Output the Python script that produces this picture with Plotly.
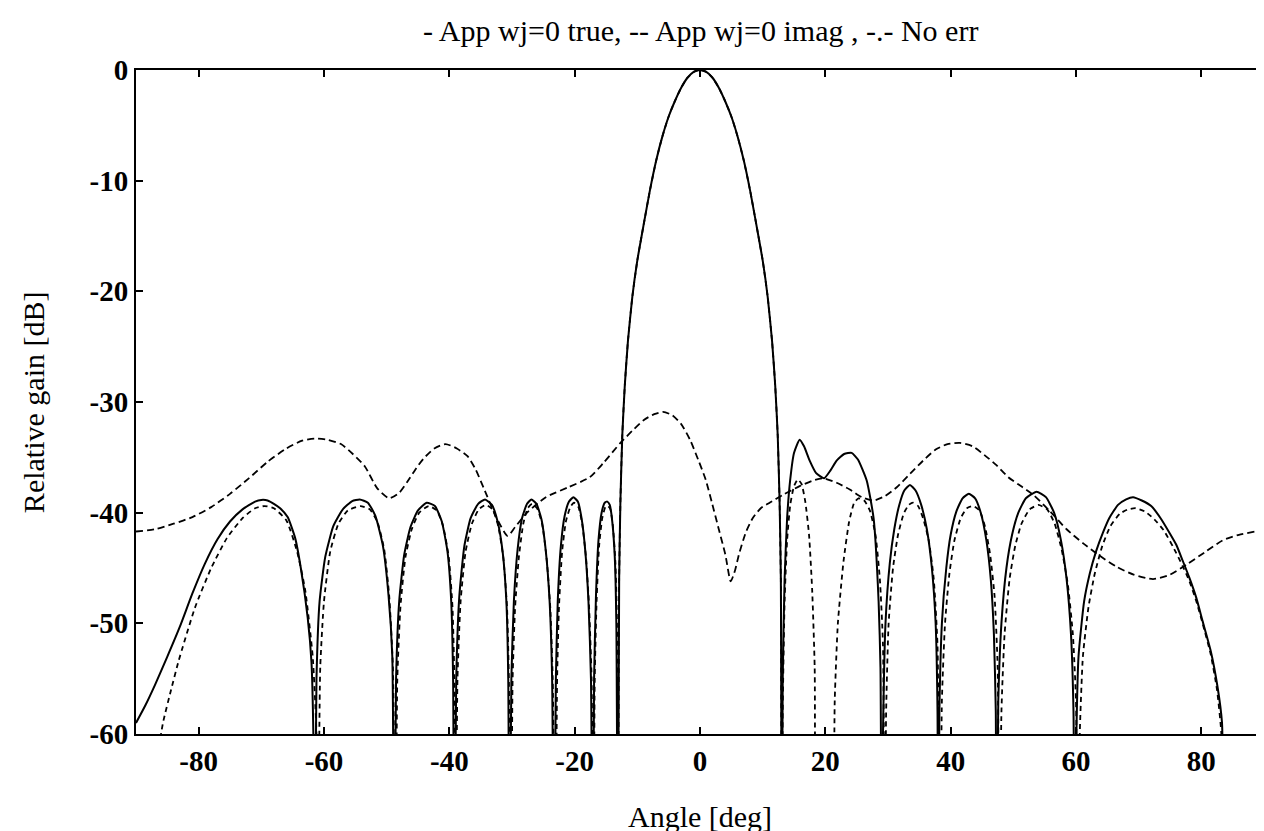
import plotly.graph_objects as go

# ---- data ----
main_x = [-12.9, -12.7, -12.4, -12.0, -11.5, -10.8, -10, -9, -8, -7, -6, -5, -4, -3, -2, -1, 0,
          1, 2, 3, 4, 5, 6, 7, 8, 9, 10, 10.8, 11.5, 12.0, 12.4, 12.7, 12.9, 13.05]
main_y = [-46, -39, -33, -28.5, -24.5, -20.5, -17.2, -14.0, -10.9, -8.2, -6.0, -4.2, -2.8, -1.6, -0.7, -0.17, 0,
          -0.17, -0.7, -1.6, -2.8, -4.2, -6.0, -8.2, -10.9, -14.0, -17.2, -20.5, -24.5, -28.5, -33, -39, -46, -75]

true_left_x = [-90, -88.5, -87, -85, -83, -81, -79, -77, -75, -73, -71, -70, -69, -68, -67, -65.8, -64.6, -63.7, -62.6, -62, -61.7, -61.5,
               -61.2, -60.7, -59.8, -58.5, -57, -55.5, -54.3, -53, -51.8, -50.6, -49.7, -49.1, -48.8,
               -48.5, -48.0, -47.2, -46.2, -45.0, -43.6, -42.3, -41.2, -40.3, -39.7, -39.4, -39.2,
               -38.9, -38.4, -37.6, -36.6, -35.4, -34.3, -33.2, -32.3, -31.5, -30.9, -30.6, -30.4,
               -30.1, -29.7, -29.1, -28.4, -27.6, -26.9, -26.1, -25.3, -24.6, -24.0, -23.6, -23.3,
               -23.0, -22.7, -22.2, -21.6, -20.9, -20.2, -19.5, -18.9, -18.3, -17.8, -17.4, -17.1,
               -16.9, -16.6, -16.2, -15.7, -15.2, -14.8, -14.4, -14.0, -13.6, -13.35, -13.1]
true_left_y = [-59, -57.4, -55.6, -53, -50.3, -47.3, -44.6, -42.4, -40.8, -39.7, -39.0, -38.85, -38.9, -39.2, -39.6, -40.4, -42.3, -45, -49.5, -53.5, -60, -75,
               -55, -48, -44, -41.2, -39.7, -38.95, -38.8, -39.1, -40.3, -43, -47.5, -53, -75,
               -55, -48, -43.8, -41.3, -39.8, -39.1, -39.4, -40.8, -43.5, -48, -55, -75,
               -55, -47.5, -43, -40.5, -39.2, -38.8, -39.3, -40.8, -43.5, -48, -55, -75,
               -55, -48, -43.3, -40.5, -39.2, -38.8, -39.2, -40.6, -43.5, -48, -55, -75,
               -55, -48, -43, -40.3, -39, -38.6, -39, -40.5, -43.5, -48, -55, -75,
               -55, -47.5, -42.5, -40, -39.1, -39.0, -39.3, -40.8, -44, -50, -75]

true_right_x = [13.2, 13.5, 13.9, 14.4, 15.0, 15.9, 16.6, 17.5, 18.5, 19.8, 20.8, 21.8, 23, 24.2, 25.2, 26.6, 27.7, 28.5, 28.8, 29.0,
                29.2, 29.6, 30.3, 31.0, 31.8, 32.6, 33.5, 34.4, 35.3, 36.2, 37.0, 37.6, 37.9, 38.0,
                38.2, 38.6, 39.3, 40.0, 40.9, 41.9, 42.9, 43.9, 44.8, 45.7, 46.4, 46.9, 47.2, 47.3,
                47.6, 48.1, 48.9, 49.8, 50.8, 52.0, 53.7, 55.2, 56.5, 57.6, 58.5, 59.2, 59.6, 59.8,
                60.0, 60.4, 61.3, 62.2, 63.2, 64.3, 65.3, 66.7, 68, 69.1, 70.5, 72, 73.5, 75, 76, 77, 78.1, 79.2, 80.2, 81.5, 82.6, 83.3, 83.8,
                86, 88.2, 88.6, 89.3, 90]
true_right_y = [-55, -46, -40.5, -37, -34.6, -33.4, -34, -35.3, -36.4, -36.9, -36.2, -35.3, -34.7, -34.6, -35.2, -37.1, -40.5, -48, -54, -75,
                -60, -50, -44.5, -41.5, -39.3, -38, -37.5, -38, -39.3, -41.5, -45, -50, -58, -75,
                -58, -50, -45, -42, -39.9, -38.7, -38.3, -38.7, -40, -42.5, -46, -51, -58, -75,
                -57, -50, -45, -42, -40, -38.7, -38.1, -38.6, -40, -42.5, -46, -51, -58, -75,
                -62, -53, -48, -45.5, -43.5, -41.8, -40.5, -39.3, -38.8, -38.6, -38.9, -39.4, -40.5, -41.9, -42.9, -44.3, -45.9, -47.7, -49.8, -52.5, -55.8, -59, -75,
                -80, -75, -64, -60.5, -59]

noerr_left_x = [-87.2, -86.5, -85.7, -84.4, -83.2, -80.6, -78, -75.5, -73, -71, -69.5, -68, -66, -64.3, -63, -61.8, -61.2, -61.0,
                -60.6, -60.0, -59.0, -57.7, -56.2, -54.2, -52.7, -51.5, -50.4, -49.6, -49.0, -48.6,
                -48.3, -47.8, -47.0, -46.0, -44.8, -43.3, -42, -41, -40.1, -39.5, -39.2, -39.0,
                -38.7, -38.2, -37.4, -36.4, -35.3, -34.2, -33.1, -32.2, -31.4, -30.8, -30.5, -30.2,
                -29.9, -29.5, -28.9, -28.2, -27.5, -26.8, -26.0, -25.2, -24.5, -23.9, -23.5, -23.1,
                -22.8, -22.5, -22.0, -21.4, -20.7, -20.1, -19.4, -18.8, -18.2, -17.7, -17.3, -17.0,
                -16.8, -16.5, -16.1, -15.6, -15.1, -14.7, -14.3, -13.9, -13.5, -13.25, -13.1]
noerr_left_y = [-75, -62, -59, -56, -53.4, -48.6, -45, -42.3, -40.5, -39.6, -39.4, -39.6, -40.7, -43.5, -47, -53, -60, -75,
                -54, -48, -43.5, -41, -39.8, -39.4, -39.7, -40.8, -43.3, -47.5, -54, -75,
                -55, -48.5, -44, -41.5, -40, -39.4, -39.8, -41.2, -44, -48.5, -55, -75,
                -55, -48, -43.5, -41, -39.7, -39.3, -39.7, -41.2, -44, -48.5, -55, -75,
                -55, -48.5, -44, -41, -39.6, -39.2, -39.6, -41, -44, -48.5, -55, -75,
                -55, -48.5, -43.5, -40.8, -39.5, -39.1, -39.5, -41, -44, -48.5, -55, -75,
                -55, -48, -43, -40.5, -39.5, -39.4, -39.7, -41.2, -44.5, -50, -75]

noerr_right_x = [13.2, 13.5, 13.9, 14.4, 15.0, 15.6, 16.2, 16.8, 17.4, 17.9, 18.3, 18.5, 19.8,
                 21.2, 21.5, 22.0, 22.9, 23.8, 24.6, 25.3, 26.2, 27.1, 28.0, 28.7, 29.2, 29.5,
                 29.7, 30.1, 30.8, 31.6, 32.5, 33.3, 34.0, 34.8, 35.6, 36.5, 37.3, 37.9, 38.3,
                 38.6, 39.1, 39.8, 40.6, 41.6, 42.6, 43.6, 44.6, 45.5, 46.3, 47.0, 47.5, 47.8,
                 48.1, 48.6, 49.4, 50.3, 51.3, 52.6, 54, 55.4, 56.6, 57.7, 58.7, 59.5, 60.0, 60.3,
                 60.6, 61.1, 62, 63, 64.2, 65.5, 67, 68.3, 69.5, 71, 72.5, 74, 75.5, 77, 78.1, 79.2, 80.2, 81.5, 82.5, 83.2, 83.6]
noerr_right_y = [-58, -48, -42.5, -39.3, -37.6, -37.0, -37.4, -39, -42, -47, -54, -75, -85,
                 -75, -57, -50, -44.4, -40.8, -39.1, -38.7, -38.9, -39.8, -42, -46, -52, -75,
                 -58, -50, -45, -42, -40.1, -39.3, -39.1, -39.4, -40.5, -42.5, -46, -52, -75,
                 -57, -50, -45.5, -42.5, -40.5, -39.6, -39.4, -39.8, -41.3, -43.8, -47.5, -54, -75,
                 -58, -51, -46, -43, -41, -39.7, -39.3, -39.7, -41, -43.3, -46.5, -51, -57, -75,
                 -60, -53, -48.5, -45.5, -43, -41.2, -40.1, -39.7, -39.6, -39.9, -40.6, -41.6, -43.1, -44.8, -46.2, -48, -50, -52.8, -56, -60, -75]

imag_x = [-90, -87, -84, -81, -78, -75, -72, -69, -66, -63.5, -61.5, -59.5, -57.3, -55.4, -53.5,
          -51.5, -49.6, -48, -46.7, -45.3, -44.1, -42.4, -40.6, -38.8, -37.1, -35.8, -34.5, -32.6, -30.7, -29.5,
          -27.6, -24.6, -21, -17.6, -15.4, -12.7, -10.8, -8.9, -7.3, -5.9, -4.4, -3.0, -1.6, -0.3, 0.9, 1.9, 3.0,
          4.05, 4.9, 5.6, 6.2, 7.3, 8.4, 9.7, 11.1, 13.2, 15.9, 18, 19.7, 21.8, 23.9, 25.8, 27.7, 29.5, 31.4,
          33.5, 35.6, 37.6, 39.5, 41.5, 43.5, 45.4, 47.3, 49.2, 51.2, 53.2, 55.9, 58.5, 61.2, 63.8, 66.5, 69.2,
          72.3, 75, 77.6, 80.5, 83.4, 86, 88.7, 90]
imag_y = [-41.7, -41.5, -41.0, -40.4, -39.5, -38.3, -36.9, -35.4, -34.2, -33.5, -33.3, -33.4, -33.8, -34.7, -35.8,
          -37.8, -38.7, -38.2, -37.2, -36.0, -35.1, -34.2, -33.8, -34.2, -34.9, -36.1, -37.8, -40.3, -42.1, -41.3,
          -40.0, -38.6, -37.7, -36.8, -35.5, -33.7, -32.6, -31.6, -31.1, -30.9, -31.2, -32.0, -33.4, -35.2, -37.0, -39.1, -41.5,
          -43.8, -46.2, -45.2, -43.8, -41.8, -40.5, -39.6, -39.1, -38.4, -37.6, -37.1, -36.9, -37.3, -37.9, -38.6, -38.9, -38.5, -37.7,
          -36.5, -35.3, -34.3, -33.8, -33.7, -34.0, -34.8, -35.7, -36.8, -37.6, -38.4, -39.9, -41.5, -42.8, -43.9, -44.9, -45.6,
          -46.0, -45.6, -44.7, -43.6, -42.5, -42.0, -41.7, -41.6]

x_ticks = [-80, -60, -40, -20, 0, 20, 40, 60, 80]
y_ticks = [0, -10, -20, -30, -40, -50, -60]

# ---- figure ----
true_x = true_left_x + main_x + true_right_x
true_y = true_left_y + main_y + true_right_y
noerr_x = noerr_left_x + main_x + noerr_right_x
noerr_y = noerr_left_y + main_y + noerr_right_y

fig = go.Figure()
fig.add_trace(go.Scatter(x=imag_x, y=imag_y, mode="lines", name="App wj=0 imag",
                         line=dict(color="black", width=1.8, dash="7px,4px", shape="spline", smoothing=0.6)))
fig.add_trace(go.Scatter(x=noerr_x, y=noerr_y, mode="lines", name="No err",
                         line=dict(color="black", width=1.8, dash="5px,4px", shape="spline", smoothing=0.5)))
fig.add_trace(go.Scatter(x=true_x, y=true_y, mode="lines", name="App wj=0 true",
                         line=dict(color="black", width=2, shape="spline", smoothing=0.5)))

font_family = "Liberation Serif, Times New Roman, serif"
axis_common = dict(showgrid=False, zeroline=False, showline=True, linecolor="black", linewidth=2,
                   mirror="ticks", ticks="inside", ticklen=7, tickwidth=1.5, tickcolor="black",
                   tickfont=dict(family=font_family, size=29, color="black", weight="bold"))

fig.update_layout(
    width=1264, height=831,
    margin=dict(l=128, r=6, t=62, b=105),
    paper_bgcolor="white", plot_bgcolor="white",
    showlegend=False,
    font=dict(family=font_family, color="black"),
    xaxis=dict(range=[-90, 90], tickvals=x_ticks, ticktext=[str(v) for v in x_ticks], **axis_common),
    yaxis=dict(range=[-60, 0], tickvals=y_ticks, ticktext=[str(v) for v in y_ticks], **axis_common),
    annotations=[
        dict(text="- App wj=0 true, -- App wj=0 imag , -.- No err", xref="paper", yref="paper",
             x=0.5, y=1.060, xanchor="center", yanchor="middle", showarrow=False,
             font=dict(family=font_family, size=30, color="black")),
        dict(text="Angle [deg]", xref="paper", yref="paper",
             x=0.5, y=-0.1235, xanchor="center", yanchor="middle", showarrow=False,
             font=dict(family=font_family, size=30, color="black")),
        dict(text="Relative gain [dB]", xref="paper", yref="paper", textangle=-90,
             x=-0.0912, y=0.5, xanchor="center", yanchor="middle", showarrow=False,
             font=dict(family=font_family, size=30, color="black")),
    ],
)

fig.write_html("out.html")
